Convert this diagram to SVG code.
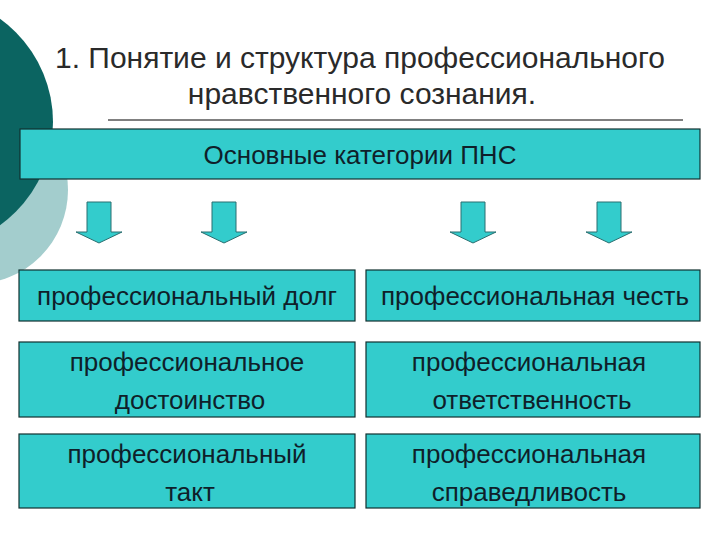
<svg xmlns="http://www.w3.org/2000/svg" width="720" height="540" viewBox="0 0 720 540">
<style>
.bx{fill:#33cccc;stroke:#12302f;stroke-width:1.2}
.ar{fill:#33cccc;stroke:#2a6f70;stroke-width:1}
.t{font-family:"Liberation Sans",Arial,sans-serif;font-size:26px;fill:#0f1f2a;text-anchor:middle}
.h{font-family:"Liberation Sans",Arial,sans-serif;font-size:30px;fill:#2a2a2a;text-anchor:middle}
</style>
<defs>
<path id="arrow" d="M-12,0 H12 V30 H23 L0,41 L-23,30 H-12 Z"/>
</defs>
<rect width="720" height="540" fill="#ffffff"/>
<circle cx="-26" cy="190" r="94" fill="#a3cdcd"/>
<circle cx="-74" cy="122" r="127" fill="#0b6461"/>
<g id="title">
<text class="h" x="360" y="68">1. Понятие и структура профессионального</text>
<text class="h" x="362" y="104">нравственного сознания.</text>
<line x1="108" y1="120" x2="683" y2="120" stroke="#000" stroke-width="1"/>
</g>
<g id="header">
<rect class="bx" x="20" y="129" width="680" height="50"/>
<text class="t" x="360" y="164">Основные категории ПНС</text>
</g>
<g id="connectors">
<use href="#arrow" class="ar" x="99" y="202"/>
<use href="#arrow" class="ar" x="224" y="202"/>
<use href="#arrow" class="ar" x="473" y="202"/>
<use href="#arrow" class="ar" x="609" y="202"/>
</g>
<g id="n1"><rect class="bx" x="19" y="270" width="336" height="51"/><text class="t" x="187" y="305">профессиональный долг</text></g>
<g id="n2"><rect class="bx" x="366" y="270" width="334" height="51"/><text class="t" x="535" y="305">профессиональная честь</text></g>
<g id="n3"><rect class="bx" x="19" y="342" width="336" height="75"/><text class="t" x="187" y="371">профессиональное</text><text class="t" x="190" y="409">достоинство</text></g>
<g id="n4"><rect class="bx" x="366" y="342" width="334" height="75"/><text class="t" x="529" y="371">профессиональная</text><text class="t" x="532" y="409">ответственность</text></g>
<g id="n5"><rect class="bx" x="19" y="434" width="336" height="74"/><text class="t" x="187" y="463">профессиональный</text><text class="t" x="190" y="501">такт</text></g>
<g id="n6"><rect class="bx" x="366" y="434" width="334" height="74"/><text class="t" x="529" y="463">профессиональная</text><text class="t" x="529" y="501">справедливость</text></g>
</svg>
